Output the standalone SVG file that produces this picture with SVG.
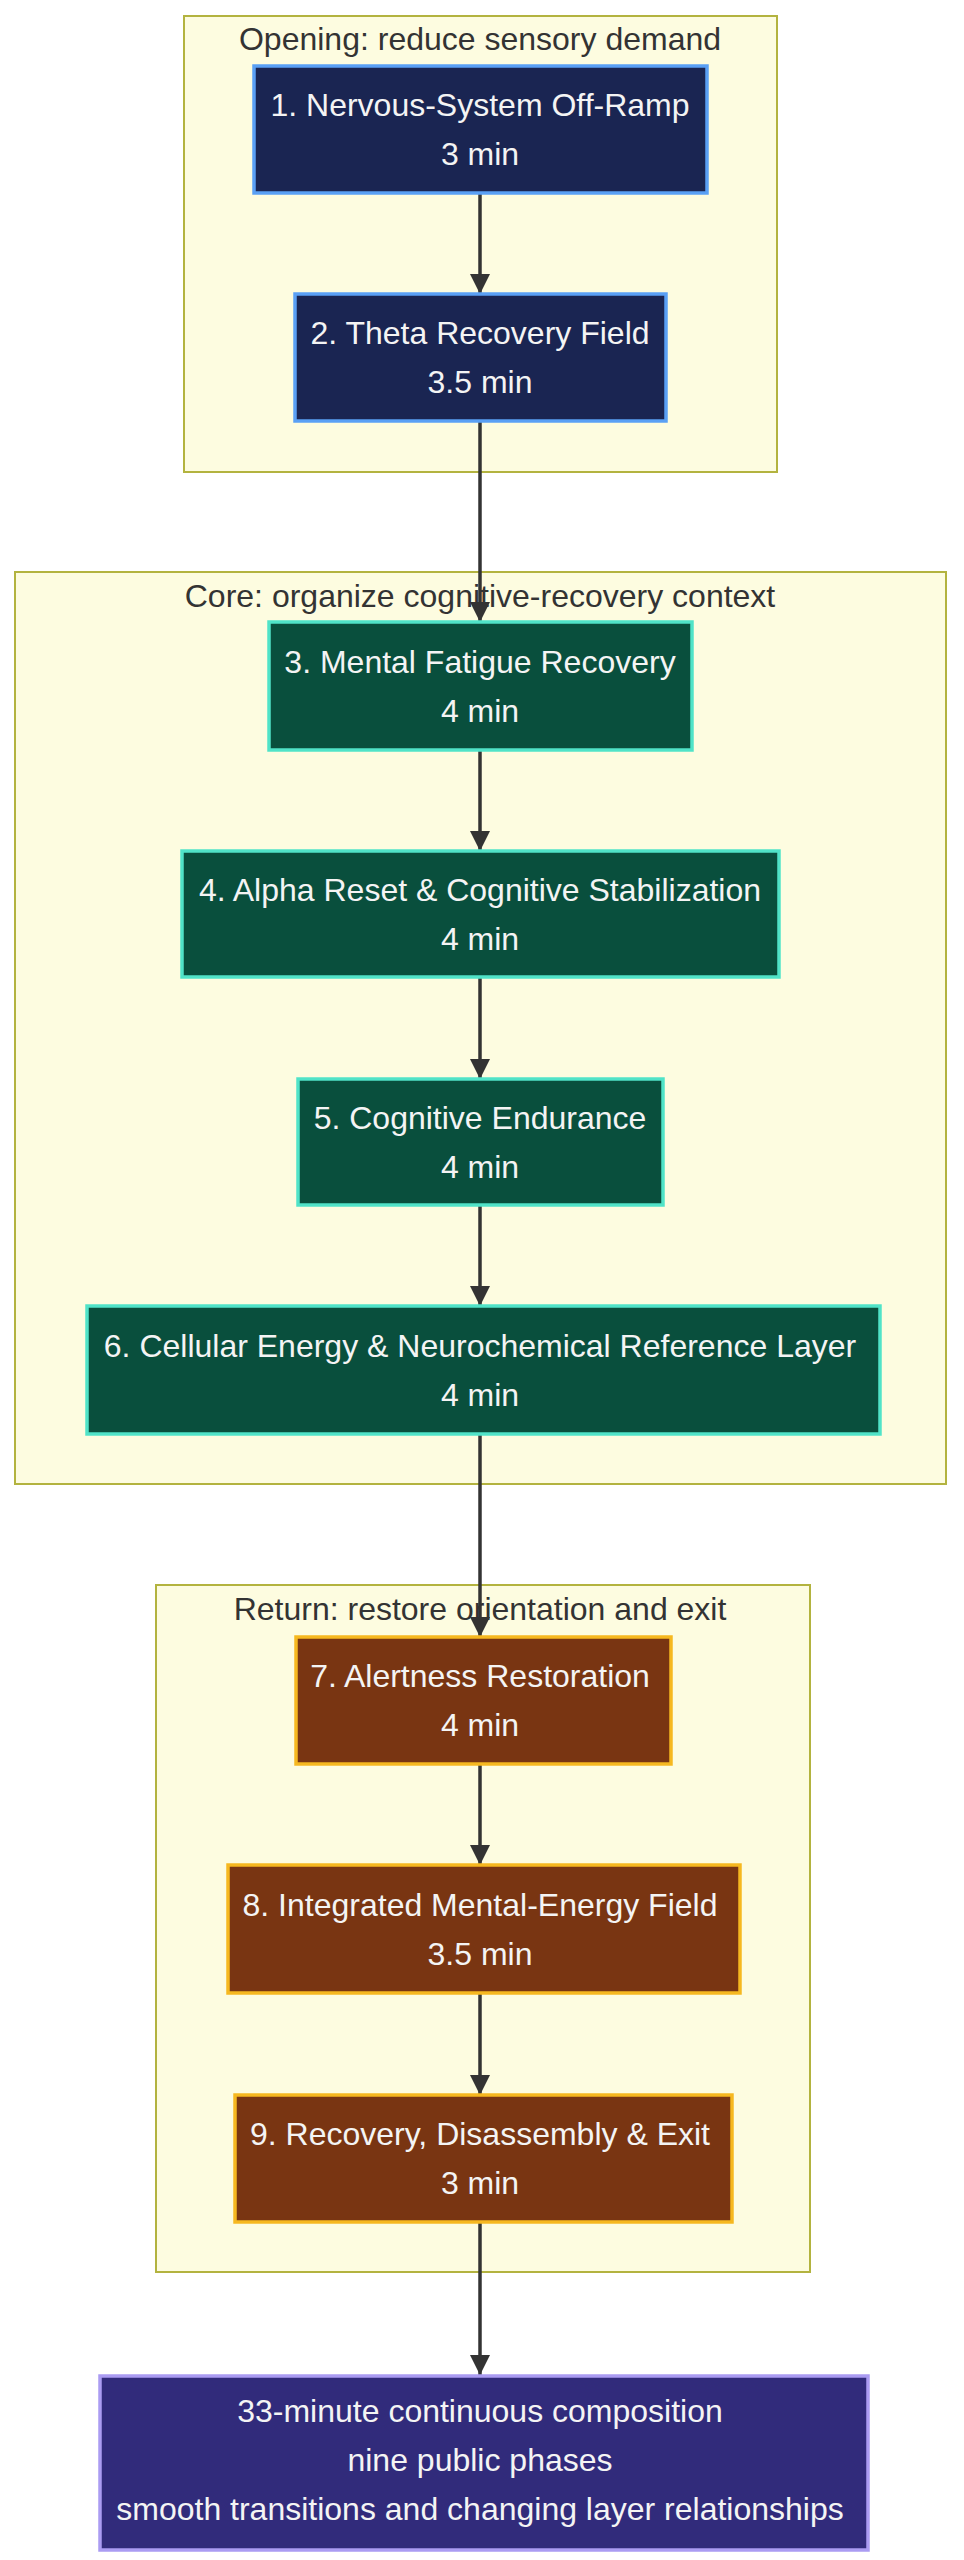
<svg xmlns="http://www.w3.org/2000/svg" width="964" height="2560" viewBox="0 0 964 2560">
<style>
text{font-family:"Liberation Sans",Arial,sans-serif;font-size:32px;text-anchor:middle}
.cl{fill:#fdfce0;stroke:#b3b33f;stroke-width:2}
.ct{fill:#333}
.nt{fill:#f4f4f4}
.a rect{fill:#1a2552;stroke:#5aa0f5;stroke-width:3.5}
.b rect{fill:#094f3d;stroke:#50e3c8;stroke-width:3.5}
.c rect{fill:#793512;stroke:#f6b820;stroke-width:3.5}
.d rect{fill:#312b7b;stroke:#ab9cf2;stroke-width:3.5}
.e{stroke:#333;stroke-width:3.5;fill:none;marker-end:url(#ah)}
</style>
<defs><marker id="ah" viewBox="0 0 10 10" refX="10" refY="5" markerWidth="20" markerHeight="20" markerUnits="userSpaceOnUse" orient="auto"><path d="M0,0L10,5L0,10z" fill="#333"/></marker></defs>
<g id="clusters">
<rect class="cl" x="184" y="16" width="593" height="456"/>
<text class="ct" x="480" y="50">Opening: reduce sensory demand</text>
<rect class="cl" x="15" y="572" width="931" height="912"/>
<text class="ct" x="480" y="607">Core: organize cognitive-recovery context</text>
<rect class="cl" x="156" y="1585" width="654" height="687"/>
<text class="ct" x="480" y="1620">Return: restore orientation and exit</text>
</g>
<g id="edges">
<path class="e" d="M480 193V294"/>
<path class="e" d="M480 421V622"/>
<path class="e" d="M480 750V851"/>
<path class="e" d="M480 977V1079"/>
<path class="e" d="M480 1205V1306"/>
<path class="e" d="M480 1434V1637"/>
<path class="e" d="M480 1764V1865"/>
<path class="e" d="M480 1993V2095"/>
<path class="e" d="M480 2222V2375"/>
</g>
<g id="n1" class="a"><rect x="254" y="66" width="453" height="127"/><text class="nt" x="480" y="116">1. Nervous-System Off-Ramp</text><text class="nt" x="480" y="165">3 min</text></g>
<g id="n2" class="a"><rect x="295" y="294" width="371" height="127"/><text class="nt" x="480" y="344">2. Theta Recovery Field</text><text class="nt" x="480" y="393">3.5 min</text></g>
<g id="n3" class="b"><rect x="269" y="622" width="423" height="128"/><text class="nt" x="480" y="673">3. Mental Fatigue Recovery</text><text class="nt" x="480" y="722">4 min</text></g>
<g id="n4" class="b"><rect x="182" y="851" width="597" height="126"/><text class="nt" x="480" y="901">4. Alpha Reset &amp; Cognitive Stabilization</text><text class="nt" x="480" y="950">4 min</text></g>
<g id="n5" class="b"><rect x="298" y="1079" width="365" height="126"/><text class="nt" x="480" y="1129">5. Cognitive Endurance</text><text class="nt" x="480" y="1178">4 min</text></g>
<g id="n6" class="b"><rect x="87" y="1306" width="793" height="128"/><text class="nt" x="480" y="1357">6. Cellular Energy &amp; Neurochemical Reference Layer</text><text class="nt" x="480" y="1406">4 min</text></g>
<g id="n7" class="c"><rect x="296" y="1637" width="375" height="127"/><text class="nt" x="480" y="1687">7. Alertness Restoration</text><text class="nt" x="480" y="1736">4 min</text></g>
<g id="n8" class="c"><rect x="228" y="1865" width="512" height="128"/><text class="nt" x="480" y="1916">8. Integrated Mental-Energy Field</text><text class="nt" x="480" y="1965">3.5 min</text></g>
<g id="n9" class="c"><rect x="235" y="2095" width="497" height="127"/><text class="nt" x="480" y="2145">9. Recovery, Disassembly &amp; Exit</text><text class="nt" x="480" y="2194">3 min</text></g>
<g id="n10" class="d"><rect x="100" y="2376" width="768" height="174"/><text class="nt" x="480" y="2422">33-minute continuous composition</text><text class="nt" x="480" y="2471">nine public phases</text><text class="nt" x="480" y="2520">smooth transitions and changing layer relationships</text></g>
</svg>
